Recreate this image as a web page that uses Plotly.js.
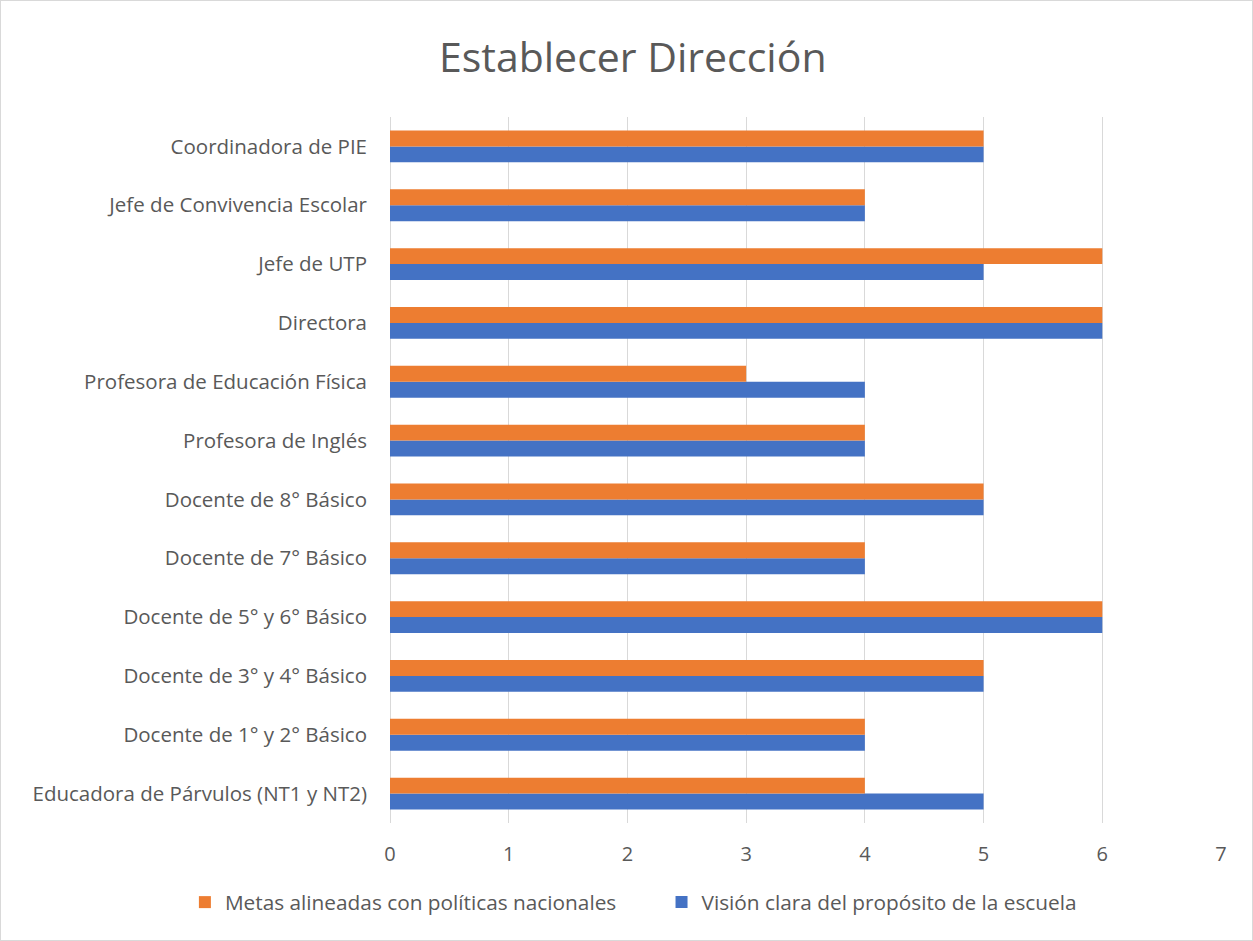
<!DOCTYPE html>
<html><head><meta charset="utf-8">
<script src="https://cdn.plot.ly/plotly-3.0.1.min.js"></script>
<style>body{margin:0;}#c{width:1251px;height:939px;border:1px solid #d9d9d9;}</style>
</head><body><div id="c"></div>
<script>
const categories = ["Educadora de Párvulos (NT1 y NT2)","Docente de 1° y 2° Básico","Docente de 3° y 4° Básico","Docente de 5° y 6° Básico","Docente de 7° Básico","Docente de 8° Básico","Profesora de Inglés","Profesora de Educación Física","Directora","Jefe de UTP","Jefe de Convivencia Escolar","Coordinadora de PIE"];
const metas = [4,4,5,6,4,5,4,3,6,6,4,5];
const vision = [5,4,5,6,4,5,4,4,6,5,4,5];
const xTicks = [0,1,2,3,4,5,6,7];
const font = "Open Sans, sans-serif";
const legBase = {orientation:'h', xref:'container', yref:'container', xanchor:'left', y:0.018, yanchor:'bottom', font:{size:20.8}, itemwidth:30, visible:true};
Plotly.newPlot('c', [
 {type:'bar', orientation:'h', y:categories, x:vision, name:'Visión clara del propósito de la escuela', marker:{color:'#4472C4'}, legend:'legend2', showlegend:true},
 {type:'bar', orientation:'h', y:categories, x:metas, name:'Metas alineadas con políticas nacionales', marker:{color:'#ED7D31'}, legend:'legend', showlegend:true}
], {
 width:1251, height:939, showlegend:true,
 barmode:'group', bargap:0.46, bargroupgap:0,
 title:{text:'Establecer Dirección', font:{family:font, size:41, color:'#595959'}, x:0.505, xanchor:'center', y:0.94, yanchor:'middle'},
 margin:{l:389, r:31, t:116, b:117},
 font:{family:font, color:'#595959', size:20},
 xaxis:{range:[0,7], tickvals:xTicks, showgrid:true, gridcolor:'#d9d9d9', zeroline:true, zerolinecolor:'#d9d9d9', tickfont:{size:20}, ticks:'', ticklabelstandoff:17, fixedrange:true},
 yaxis:{type:'category', categoryarray:categories, tickfont:{size:20.5}, ticklabelstandoff:22, showgrid:false, automargin:false},
 legend:Object.assign({}, legBase, {x:0.147}),
 legend2:Object.assign({}, legBase, {x:0.528}),
 plot_bgcolor:'white', paper_bgcolor:'white'
}, {displayModeBar:false});
</script></body></html>
